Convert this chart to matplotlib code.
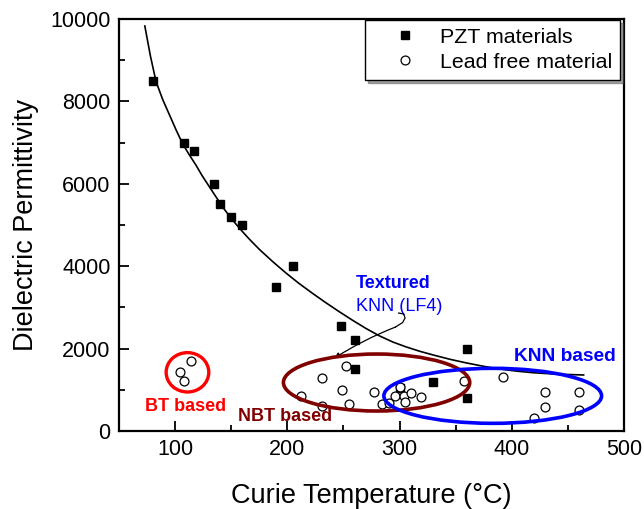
import numpy as np
import matplotlib
matplotlib.use("Agg")
import matplotlib.pyplot as plt
from matplotlib.patches import Ellipse

plt.rcParams['font.family'] = ['Liberation Sans', 'DejaVu Sans']

# PZT materials (Curie temperature in C, permittivity)
pzt_tc = [80, 108, 117, 135, 140, 150, 160, 190, 205, 248, 260, 260, 300, 330, 360, 360]
pzt_eps = [8500, 7000, 6800, 6000, 5500, 5200, 5000, 3500, 4000, 2550, 2200, 1500, 1050, 1200, 2000, 800]

# lead free materials
lf_tc = [114, 104, 108,
         212, 231, 231, 252, 249, 255, 277, 284, 291, 300, 296, 304, 305, 310, 319, 357,
         392, 430, 430, 420, 460, 460]
lf_eps = [1710, 1430, 1210,
          860, 1280, 615, 1580, 1000, 655, 955, 655, 670, 1075, 850, 850, 710, 930, 835, 1210,
          1300, 955, 575, 310, 955, 510]

# trend line through the PZT data
trend_tc = [73, 78, 83, 89, 95, 101, 106.5, 112, 118.5, 124, 130, 136, 142, 148, 154, 160, 166,
            175, 187, 199, 210, 222, 234, 246, 258, 270, 282, 294, 306, 318, 330, 345, 360,
            375, 389, 404, 419, 440, 464]
trend_eps = [9830, 9100, 8480, 8040, 7670, 7300, 6980, 6730, 6456, 6200, 5950, 5700, 5450, 5230,
             5030, 4840, 4660, 4410, 4110, 3830, 3590, 3350, 3120, 2900, 2690, 2490, 2310, 2160,
             2040, 1935, 1845, 1740, 1650, 1570, 1505, 1455, 1415, 1380, 1360]

# leader from the "Textured KNN (LF4)" label
hook_tc = [299.1, 303.6, 304.9, 302.7, 296.4]
hook_eps = [2864, 2840, 2743, 2633, 2524]

fig = plt.figure(figsize=(6.44, 5.09), dpi=100)
ax = fig.add_axes([0.1848, 0.1532, 0.9690 - 0.1848, 0.9627 - 0.1532])

ax.plot(trend_tc, trend_eps, color='black', lw=1.2, zorder=3)
ax.plot(pzt_tc, pzt_eps, 's', color='black', ms=6.2, mec='black', label='PZT materials', zorder=4)
ax.plot(lf_tc, lf_eps, 'o', mfc='white', mec='black', ms=6.4, mew=0.9,
        label='Lead free material', zorder=5)

# material families
dark_red = '#800000'
ax.add_patch(Ellipse((111, 1425), 38, 955, fill=False, ec='#ff0000', lw=2.4, zorder=6))
ax.add_patch(Ellipse((279.5, 1177), 166, 1383, fill=False, ec=dark_red, lw=2.6, zorder=6))
ax.add_patch(Ellipse((383, 854), 194, 1335, fill=False, ec='#0000ff', lw=2.6, zorder=6))

ax.text(109, 590, 'BT based', color='#ff0000', fontsize=13, fontweight='bold', ha='center', va='center')
ax.text(198, 364, 'NBT based', color=dark_red, fontsize=13, fontweight='bold', ha='center', va='center')
ax.text(447, 1803, 'KNN based', color='#0000ff', fontsize=13.8, fontweight='bold', ha='center', va='center')
ax.text(261, 3585, 'Textured', color='#0000ff', fontsize=13, fontweight='bold', ha='left', va='center')
ax.text(261, 3034, 'KNN (LF4)', color='#0000ff', fontsize=13, ha='left', va='center')
ax.plot(hook_tc, hook_eps, color='black', lw=0.9, zorder=3)
ax.annotate('', xy=(242, 1770), xytext=(hook_tc[-1], hook_eps[-1]),
            arrowprops=dict(arrowstyle='-|>', color='black', lw=0.9, mutation_scale=8,
                            connectionstyle='arc3,rad=0.05', shrinkA=0, shrinkB=0))

ax.set_xlim(50, 500)
ax.set_ylim(0, 10000)
ax.set_xticks([100, 200, 300, 400, 500])
ax.set_xticks(np.arange(50, 501, 50), minor=True)
ax.set_yticks(np.arange(0, 10001, 2000))
ax.set_yticks(np.arange(0, 10001, 1000), minor=True)
ax.tick_params(which='both', direction='in', top=False, right=False, labelsize=15.5, width=1.3)
ax.tick_params(which='major', length=7, pad=6)
ax.tick_params(which='minor', length=4)
for s in ax.spines.values():
    s.set_linewidth(1.6)

ax.set_xlabel('Curie Temperature (°C)', fontsize=19.5, labelpad=16)
ax.set_ylabel('Dielectric Permittivity', fontsize=19.5, labelpad=8)

leg = ax.legend(loc='upper right', bbox_to_anchor=(0.992, 0.998), borderaxespad=0,
                fontsize=15.4, frameon=True, fancybox=False, shadow=True,
                handletextpad=0.1, borderpad=0.38, labelspacing=0.28, handlelength=3.0)
leg.get_frame().set_edgecolor('black')
leg.get_frame().set_linewidth(1.0)

fig.savefig('out.png', dpi=100)
